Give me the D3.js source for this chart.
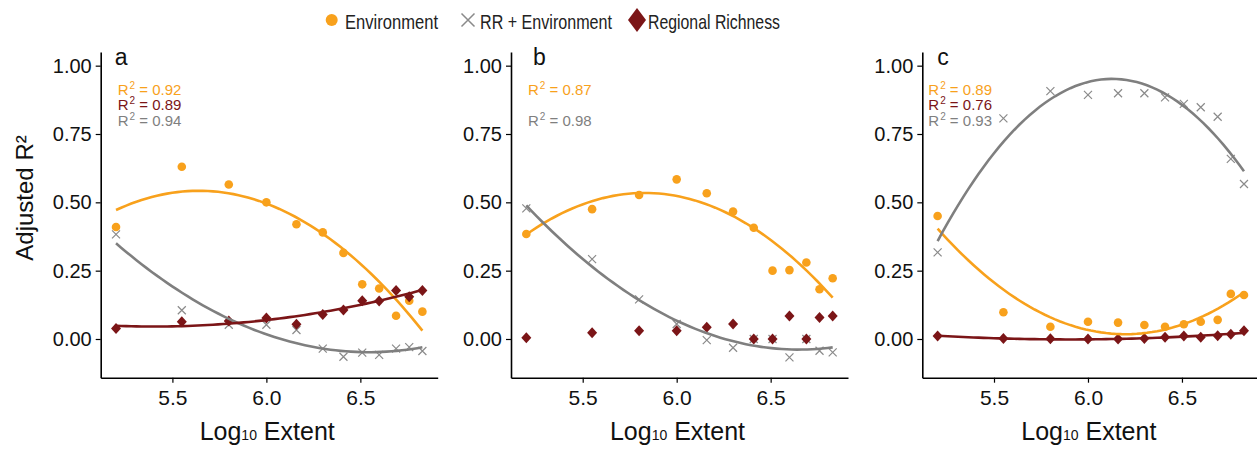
<!DOCTYPE html>
<html>
<head>
<meta charset="utf-8">
<title>Adjusted R2 by extent</title>
<script src="https://d3js.org/d3.v7.min.js"></script>
<style type="text/css">
  body { margin:0; background:#fff; }
  svg text { font-family:"Liberation Sans", Arial, sans-serif; }
</style>
</head>
<body>
<div id="chart"></div>
<script type="text/javascript">

// log10 extents shared by all three panels
var extent = [5.2, 5.55, 5.8, 6.0, 6.16, 6.3, 6.41, 6.51, 6.6, 6.69, 6.76, 6.83];

// panel a
var envA   = [0.41, 0.63, 0.565, 0.50, 0.42, 0.39, 0.315, 0.20, 0.185, 0.085, 0.14, 0.10];
var rrEnvA = [0.383, 0.105, 0.052, 0.052, 0.033, -0.035, -0.065, -0.05, -0.058, -0.035, -0.03, -0.044];
var rrA    = [0.038, 0.063, 0.066, 0.077, 0.054, 0.09, 0.106, 0.14, 0.139, 0.177, 0.155, 0.177];
// panel b
var envB   = [0.384, 0.475, 0.527, 0.584, 0.533, 0.466, 0.407, 0.25, 0.252, 0.28, 0.182, 0.222];
var rrEnvB = [0.478, 0.292, 0.145, 0.055, -0.004, -0.032, 0.0, 0.0, -0.067, 0.0, -0.043, -0.049];
var rrB    = [0.005, 0.023, 0.03, 0.03, 0.043, 0.055, 0.0, 0.0, 0.084, 0.0, 0.079, 0.084];
// panel c
var envC   = [0.45, 0.098, 0.045, 0.063, 0.06, 0.051, 0.045, 0.054, 0.063, 0.07, 0.165, 0.161];
var rrEnvC = [0.317, 0.807, 0.907, 0.893, 0.899, 0.899, 0.884, 0.86, 0.848, 0.813, 0.659, 0.567];
var rrC    = [0.011, 0.002, 0.001, 0.0, 0.0, 0.002, 0.006, 0.011, 0.006, 0.012, 0.017, 0.03];

var panelLetters = ["a", "b", "c"];
// R2 labels: environment, regional richness, RR + environment (null = no fit shown)
var r2Env   = ["0.92", "0.87", "0.89"];
var r2RR    = ["0.89", null, "0.76"];
var r2RREnv = ["0.94", "0.98", "0.93"];

var yTicks = [0, 0.25, 0.5, 0.75, 1];
var xTicks = [5.5, 6.0, 6.5];
var legendLabels = ["Environment", "RR + Environment", "Regional Richness"];

var orange = "#f8a11c", darkred = "#7b1517", grey = "#7f7f7f";

var width = 1257, height = 451;

var svg = d3.select("#chart").append("svg")
    .attr("width", width)
    .attr("height", height);

svg.append("rect").attr("width", width).attr("height", height).attr("fill", "white");

var panelLeft = [100.7, 511, 922.3],
    panelW = 337,
    letterDx = [14, 22, 15],
    r2Dx = [17, 17, 6];

var y = d3.scaleLinear().domain([-0.1416, 1.05]).range([377.7, 52]);

// quadratic least squares, same as the lm(y ~ poly(x,2)) smoothers
function quadFit(xs, ys) {
    var mx = d3.mean(xs);
    var s = [0, 0, 0, 0, 0], t = [0, 0, 0];
    xs.forEach(function(x0, i) {
        var u = x0 - mx, p = 1;
        for (var k = 0; k < 5; k++) { s[k] += p; if (k < 3) t[k] += p * ys[i]; p *= u; }
    });
    var A = [[s[0], s[1], s[2], t[0]], [s[1], s[2], s[3], t[1]], [s[2], s[3], s[4], t[2]]];
    for (var c = 0; c < 3; c++) {
        for (var r = c + 1; r < 3; r++) {
            var f = A[r][c] / A[c][c];
            for (var k = c; k < 4; k++) A[r][k] -= f * A[c][k];
        }
    }
    var b = [0, 0, 0];
    for (var r = 2; r >= 0; r--) {
        var v = A[r][3];
        for (var k = r + 1; k < 3; k++) v -= A[r][k] * b[k];
        b[r] = v / A[r][r];
    }
    return function(x0) { var u = x0 - mx; return b[0] + b[1] * u + b[2] * u * u; };
}

var panels = [
    {env: envA, rrEnv: rrEnvA, rr: rrA, fitRR: true},
    {env: envB, rrEnv: rrEnvB, rr: rrB, fitRR: false},
    {env: envC, rrEnv: rrEnvC, rr: rrC, fitRR: true}
];

var crossPath = function(s) { return "M" + (-s) + "," + (-s) + "L" + s + "," + s + "M" + (-s) + "," + s + "L" + s + "," + (-s); };
var diamondPath = function(w, h) { return "M0," + (-h) + "L" + w + ",0L0," + h + "L" + (-w) + ",0Z"; };

panels.forEach(function(p, i) {
    var x = d3.scaleLinear().domain([5.1185, 6.9115]).range([panelLeft[i], panelLeft[i] + panelW]);
    var g = svg.append("g");

    // axes
    var yAxis = g.append("g")
        .attr("transform", "translate(" + panelLeft[i] + ",0)")
        .call(d3.axisLeft(y).tickValues(yTicks).tickFormat(d3.format(".2f")).tickSize(5).tickSizeOuter(0).tickPadding(4));
    yAxis.selectAll("text").attr("font-size", 20).attr("fill", "#111");

    var xAxis = g.append("g")
        .attr("transform", "translate(0," + y.range()[0] + ")")
        .call(d3.axisBottom(x).tickValues(xTicks).tickFormat(d3.format(".1f")).tickSize(5).tickSizeOuter(0).tickPadding(7));
    xAxis.selectAll("text").attr("font-size", 21).attr("fill", "#111");

    g.selectAll(".domain").attr("stroke", "#000").attr("stroke-width", 1.6);
    g.selectAll(".tick line").attr("stroke", "#000").attr("stroke-width", 1.2);

    // x title
    var xt = g.append("text")
        .attr("x", panelLeft[i] + panelW / 2 - 2)
        .attr("y", 440)
        .attr("text-anchor", "middle")
        .attr("font-size", 25)
        .attr("fill", "#111");
    xt.append("tspan").text("Log");
    xt.append("tspan").attr("font-size", 14).text("10");
    xt.append("tspan").text(" Extent");

    // panel letter
    g.append("text")
        .attr("x", panelLeft[i] + letterDx[i])
        .attr("y", 65)
        .attr("font-size", 23)
        .attr("fill", "#111")
        .text(panelLetters[i]);

    // R2 labels
    var r2 = [[r2Env[i], orange], [r2RR[i], darkred], [r2RREnv[i], grey]];
    r2.forEach(function(r, k) {
        if (r[0] === null) return;
        var t = g.append("text")
            .attr("x", panelLeft[i] + r2Dx[i])
            .attr("y", 94.5 + k * 15.5)
            .attr("font-size", 15)
            .attr("fill", r[1]);
        t.append("tspan").text("R");
        t.append("tspan").attr("font-size", 10).attr("dx", 1).attr("dy", -6).text("2");
        t.append("tspan").attr("dy", 6).text(" = " + r[0]);
    });

    // points
    g.selectAll(".cross").data(p.rrEnv).enter().append("path")
        .attr("transform", function(d, j) { return "translate(" + x(extent[j]) + "," + y(d) + ")"; })
        .attr("d", crossPath(4))
        .attr("stroke", "#8a8a8a")
        .attr("stroke-width", 1.2)
        .attr("fill", "none");

    g.selectAll(".dot").data(p.env).enter().append("circle")
        .attr("cx", function(d, j) { return x(extent[j]); })
        .attr("cy", function(d) { return y(d); })
        .attr("r", 4.3)
        .attr("fill", orange);

    g.selectAll(".diamond").data(p.rr).enter().append("path")
        .attr("transform", function(d, j) { return "translate(" + x(extent[j]) + "," + y(d) + ")"; })
        .attr("d", diamondPath(5, 5.5))
        .attr("fill", darkred);

    // fitted curves
    var xs = d3.range(0, 61).map(function(k) { return 5.2 + (6.83 - 5.2) * k / 60; });
    var line = d3.line().x(function(d) { return x(d[0]); }).y(function(d) { return y(d[1]); });
    var fits = [[p.env, orange, true], [p.rrEnv, grey, true], [p.rr, darkred, p.fitRR]];
    fits.forEach(function(f) {
        if (!f[2]) return;
        var fn = quadFit(extent, f[0]);
        g.append("path")
            .datum(xs.map(function(v) { return [v, fn(v)]; }))
            .attr("d", line)
            .attr("fill", "none")
            .attr("stroke", f[1])
            .attr("stroke-width", 2.6);
    });
});

// y title
svg.append("text")
    .attr("transform", "translate(33,198) rotate(-90)")
    .attr("text-anchor", "middle")
    .attr("font-size", 24)
    .attr("fill", "#111")
    .text("Adjusted R\u00b2");

// legend
var lg = svg.append("g");
lg.append("circle").attr("cx", 331.7).attr("cy", 20).attr("r", 6).attr("fill", orange);
lg.append("path").attr("transform", "translate(468,20)").attr("d", crossPath(6.5))
    .attr("stroke", "#8a8a8a").attr("stroke-width", 1.5).attr("fill", "none");
lg.append("path").attr("transform", "translate(637,20)").attr("d", diamondPath(9, 12)).attr("fill", darkred);

var legendX = [345, 480, 648], legendLen = [93, 132, 132];
lg.selectAll("text").data(legendLabels).enter().append("text")
    .attr("x", function(d, i) { return legendX[i]; })
    .attr("y", 28.5)
    .attr("font-size", 21)
    .attr("fill", "#222")
    .attr("textLength", function(d, i) { return legendLen[i]; })
    .attr("lengthAdjust", "spacingAndGlyphs")
    .style("font-family", "'Liberation Sans Narrow', 'Liberation Sans', sans-serif")
    .text(function(d) { return d; });

</script>
</body>
</html>
